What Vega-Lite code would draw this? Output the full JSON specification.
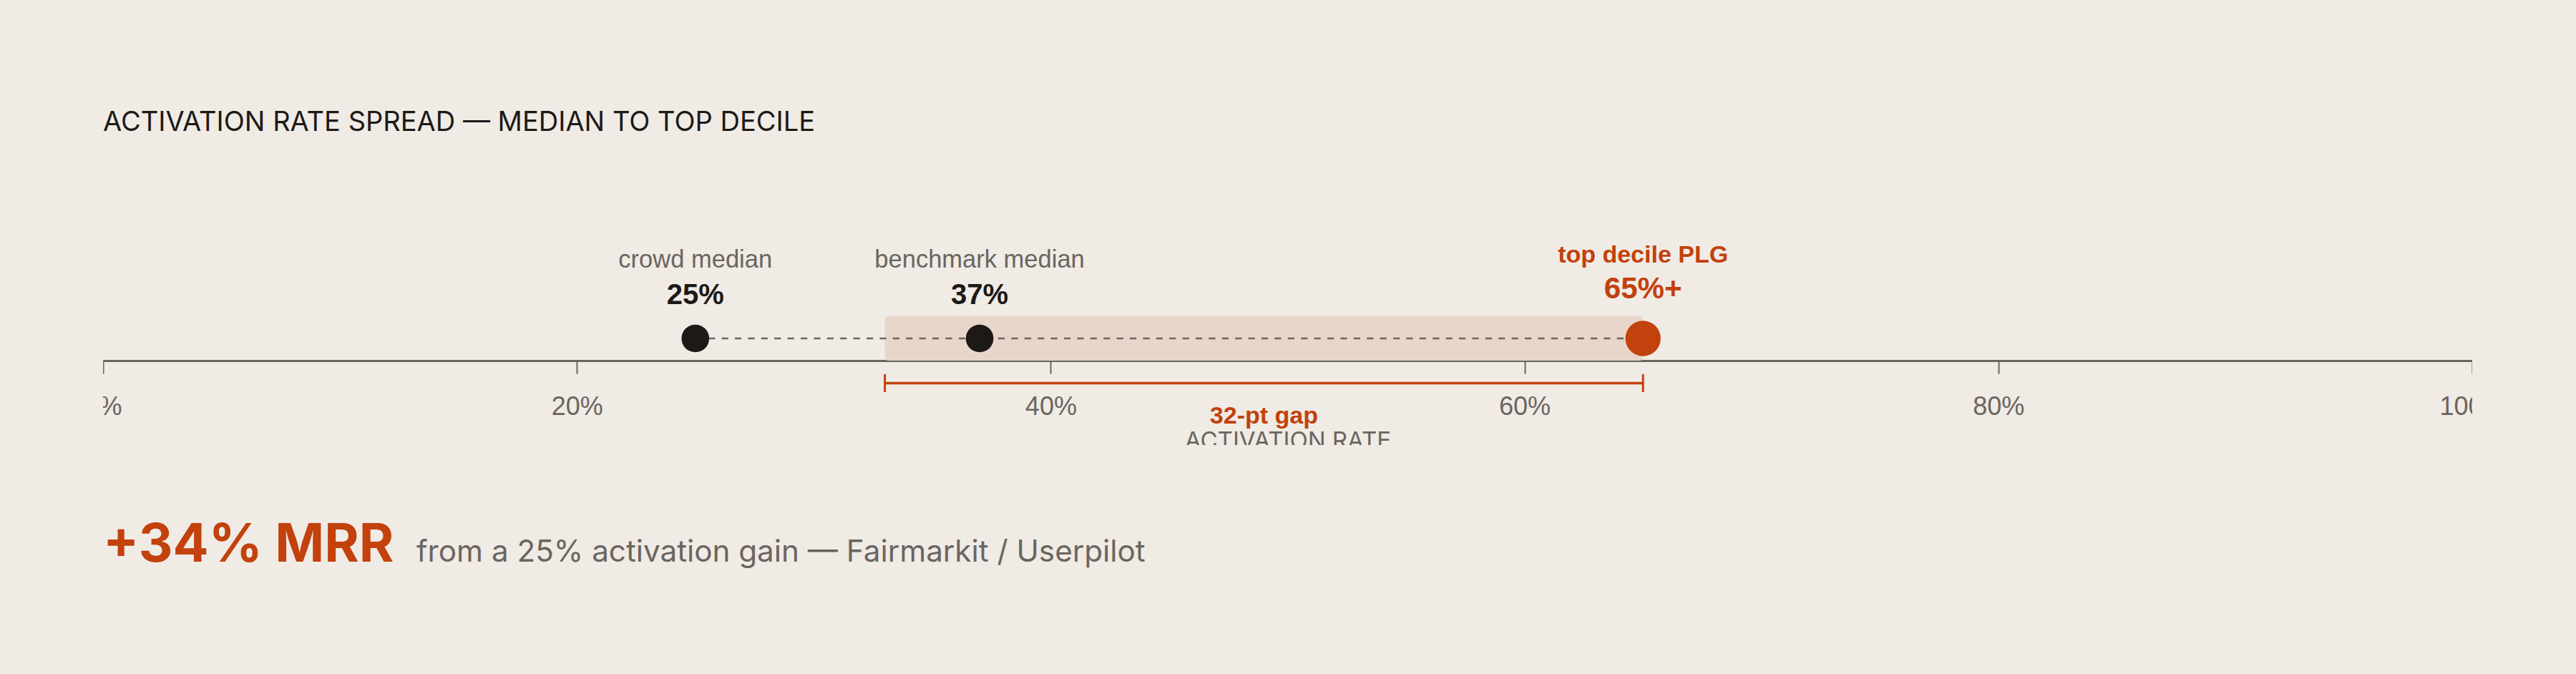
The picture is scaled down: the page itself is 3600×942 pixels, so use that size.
{
  "$schema": "https://vega.github.io/schema/vega-lite/v6.json",
  "background": "#f0ebe5",
  "autosize": {"type": "pad"},
  "padding": {"left": 144, "top": 153, "right": 145, "bottom": 77},
  "title": {
    "text": "ACTIVATION RATE SPREAD — MEDIAN TO TOP DECILE",
    "anchor": "start",
    "frame": "group",
    "font": "Inter",
    "fontSize": 38,
    "fontWeight": 400,
    "color": "#1c1917",
    "baseline": "top",
    "offset": 109
  },
  "datasets": {
    "markers": [
      {"label": "crowd median", "value": 25, "display": "25%", "tier": "median"},
      {"label": "benchmark median", "value": 37, "display": "37%", "tier": "median"},
      {"label": "top decile PLG", "value": 65, "display": "65%+", "tier": "top"}
    ],
    "gap": [
      {"label": "32-pt gap", "start": 33, "end": 65}
    ],
    "footnote": [
      {"headline": "+34% MRR", "detail": "from a 25% activation gain — Fairmarkit / Userpilot"}
    ]
  },
  "vconcat": [
    {
      "width": 3311,
      "height": 322,
      "layer": [
        {
          "data": {"name": "gap"},
          "mark": {"type": "rect", "color": "#e8d6ca", "cornerRadius": 5},
          "encoding": {
            "x": {
              "field": "start", "type": "quantitative",
              "scale": {"domain": [0, 100], "nice": false, "zero": false},
              "axis": {
                "title": "ACTIVATION RATE",
                "orient": "bottom",
                "offset": -118,
                "values": [0, 20, 40, 60, 80, 100],
                "labelExpr": "datum.value + '%'",
                "grid": false,
                "domainColor": "#6b6560", "domainWidth": 2.8, "domainCap": "butt",
                "tickColor": "#6b6560", "tickWidth": 2, "tickSize": 18,
                "labelFont": "Liberation Sans", "labelFontSize": 36, "labelColor": "#6b6560",
                "labelPadding": 29, "labelFlush": false, "labelOverlap": false, "labelBound": false,
                "titleFont": "Inter", "titleFontSize": 33, "titleFontWeight": 400,
                "titleColor": "#6b6560", "titlePadding": 14
              }
            },
            "x2": {"field": "end"},
            "y": {"datum": 55.9, "type": "quantitative", "scale": {"domain": [0, 100], "nice": false, "zero": false}, "axis": null},
            "y2": {"datum": 36.65}
          }
        },
        {
          "data": {"name": "markers"},
          "mark": {"type": "rule", "color": "#6b6560", "strokeWidth": 2.3, "strokeDash": [9.2, 9.2]},
          "encoding": {
            "x": {"aggregate": "min", "field": "value", "type": "quantitative", "title": "ACTIVATION RATE"},
            "x2": {"aggregate": "max", "field": "value"},
            "y": {"datum": 46.27, "type": "quantitative", "scale": {"domain": [0, 100]}, "axis": null}
          }
        },
        {
          "data": {"name": "gap"},
          "mark": {"type": "rule", "color": "#c2410c", "strokeWidth": 3.4},
          "encoding": {
            "x": {"field": "start", "type": "quantitative", "title": "ACTIVATION RATE"},
            "x2": {"field": "end"},
            "y": {"datum": 26.86, "type": "quantitative", "scale": {"domain": [0, 100]}, "axis": null}
          }
        },
        {
          "data": {"name": "gap"},
          "transform": [{"fold": ["start", "end"], "as": ["edge", "pos"]}],
          "mark": {"type": "rule", "color": "#c2410c", "strokeWidth": 3},
          "encoding": {
            "x": {"field": "pos", "type": "quantitative", "title": "ACTIVATION RATE"},
            "y": {"datum": 30.75, "type": "quantitative", "scale": {"domain": [0, 100]}, "axis": null},
            "y2": {"datum": 22.98}
          }
        },
        {
          "data": {"name": "markers"},
          "mark": {"type": "circle", "opacity": 1},
          "encoding": {
            "x": {"field": "value", "type": "quantitative", "title": "ACTIVATION RATE"},
            "y": {"datum": 46.27, "type": "quantitative", "scale": {"domain": [0, 100]}, "axis": null},
            "color": {"field": "tier", "type": "nominal", "scale": {"domain": ["median", "top"], "range": ["#1c1917", "#c2410c"]}, "legend": null},
            "size": {"field": "tier", "type": "nominal", "scale": {"domain": ["median", "top"], "range": [1493, 2428]}, "legend": null}
          }
        },
        {
          "data": {"name": "markers"},
          "transform": [{"filter": "datum.tier === 'median'"}],
          "mark": {"type": "text", "align": "center", "baseline": "alphabetic", "font": "Liberation Sans", "fontSize": 34.5, "color": "#6b6560"},
          "encoding": {
            "x": {"field": "value", "type": "quantitative", "title": "ACTIVATION RATE"},
            "y": {"datum": 77.0, "type": "quantitative", "scale": {"domain": [0, 100]}, "axis": null},
            "text": {"field": "label"}
          }
        },
        {
          "data": {"name": "markers"},
          "transform": [{"filter": "datum.tier === 'median'"}],
          "mark": {"type": "text", "align": "center", "baseline": "alphabetic", "font": "Liberation Sans", "fontSize": 40, "fontWeight": "bold", "color": "#1c1917"},
          "encoding": {
            "x": {"field": "value", "type": "quantitative", "title": "ACTIVATION RATE"},
            "y": {"datum": 61.2, "type": "quantitative", "scale": {"domain": [0, 100]}, "axis": null},
            "text": {"field": "display"}
          }
        },
        {
          "data": {"name": "markers"},
          "transform": [{"filter": "datum.tier === 'top'"}],
          "mark": {"type": "text", "align": "center", "baseline": "alphabetic", "font": "Liberation Sans", "fontSize": 34, "fontWeight": "bold", "color": "#c2410c"},
          "encoding": {
            "x": {"field": "value", "type": "quantitative", "title": "ACTIVATION RATE"},
            "y": {"datum": 79.2, "type": "quantitative", "scale": {"domain": [0, 100]}, "axis": null},
            "text": {"field": "label"}
          }
        },
        {
          "data": {"name": "markers"},
          "transform": [{"filter": "datum.tier === 'top'"}],
          "mark": {"type": "text", "align": "center", "baseline": "alphabetic", "font": "Liberation Sans", "fontSize": 42, "fontWeight": "bold", "color": "#c2410c"},
          "encoding": {
            "x": {"field": "value", "type": "quantitative", "title": "ACTIVATION RATE"},
            "y": {"datum": 63.7, "type": "quantitative", "scale": {"domain": [0, 100]}, "axis": null},
            "text": {"field": "display"}
          }
        },
        {
          "data": {"name": "gap"},
          "transform": [{"fold": ["start", "end"], "as": ["edge", "pos"]}],
          "mark": {"type": "text", "align": "center", "baseline": "alphabetic", "font": "Liberation Sans", "fontSize": 34, "fontWeight": "bold", "color": "#c2410c"},
          "encoding": {
            "x": {"aggregate": "mean", "field": "pos", "type": "quantitative", "title": "ACTIVATION RATE"},
            "y": {"datum": 9.41, "type": "quantitative", "scale": {"domain": [0, 100]}, "axis": null},
            "text": {"field": "label"}
          }
        }
      ]
    },
    {
      "width": 3311,
      "height": 160,
      "data": {"name": "footnote"},
      "layer": [
        {
          "mark": {"type": "text", "align": "left", "baseline": "alphabetic", "font": "Inter", "fontSize": 74, "fontWeight": 700, "color": "#c2410c"},
          "encoding": {
            "x": {"datum": 0, "type": "quantitative", "scale": {"domain": [0, 100]}, "axis": null},
            "text": {"field": "headline"}
          }
        },
        {
          "mark": {"type": "text", "align": "left", "baseline": "alphabetic", "font": "Inter", "fontSize": 42.2, "fontWeight": 400, "color": "#6b6560", "dx": 438},
          "encoding": {
            "x": {"datum": 0, "type": "quantitative", "scale": {"domain": [0, 100]}, "axis": null},
            "text": {"field": "detail"}
          }
        }
      ]
    }
  ],
  "spacing": 83,
  "bounds": "flush",
  "config": {
    "view": {"stroke": null, "clip": true},
    "font": "Liberation Sans"
  }
}
